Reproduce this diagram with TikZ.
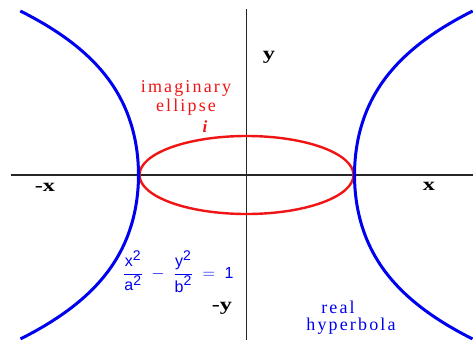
\documentclass[tikz,border=0pt]{standalone}
\usepackage{fontspec}
\setmainfont{Liberation Serif}
\newfontfamily\lsf[LetterSpace=12]{Liberation Serif}
\newfontfamily\eqf{Liberation Sans}
\newcommand\eqt[1]{\hbox{\eqf\fontsize{16}{16}\selectfont #1}}
\newcommand\eqs[1]{\hbox{\eqf\fontsize{14}{14}\selectfont #1}}
\newcommand\widelab[1]{\scalebox{1.35}[1]{#1}}
\definecolor{hblue}{RGB}{0,0,240}
\definecolor{ered}{RGB}{240,20,20}
\tikzset{
  axisline/.style={line width=1.3pt, draw=black!85},
  hyp/.style={line width=3pt, draw=hblue},
  ell/.style={line width=2.4pt, draw=ered},
  axlab/.style={font=\fontsize{18}{18}\selectfont\bfseries, text=black, inner sep=0pt},
  redt/.style={font=\lsf\fontsize{18}{18}\selectfont, text=ered, inner sep=0pt},
  bluet/.style={font=\lsf\fontsize{18}{18}\selectfont, text=hblue, inner sep=0pt},
  eqn/.style={font=\fontsize{16}{19}\selectfont, text=hblue, inner sep=0pt}
}
\begin{document}
\begin{tikzpicture}[x=1pt,y=-1pt]
\useasboundingbox (0,0) rectangle (473,340);
\fill[white] (0,0) rectangle (473,340);
% axes
\coordinate (hl) at (11,175);
\coordinate (hr) at (473,175);
\coordinate (vt) at (246.5,9);
\coordinate (vb) at (246.5,340);
\draw[axisline] (hl) -- (hr);
\draw[axisline] (vt) -- (vb);
% ellipse
\coordinate (o) at (246.5,175);
\draw[ell] (o) ellipse [x radius=107, y radius=39];
% hyperbola branches
\draw[hyp] plot[domain=-1.64:1.64, samples=80, smooth, variable=\s]
  ({246.5-(108+27*\s*\s+6.3*\s*\s*\s*\s)}, {175+100*\s});
\draw[hyp] plot[domain=-1.64:1.64, samples=80, smooth, variable=\s]
  ({246.5+(108+27*\s*\s+6.3*\s*\s*\s*\s)}, {175+100*\s});
% labels
\node[axlab] (ny) at (269,57) {\widelab{y}};
\node[axlab] (nxm) at (45,187) {\widelab{-x}};
\node[axlab] (nx) at (429,186) {\widelab{x}};
\node[axlab] (nym) at (222,308) {\widelab{-y}};
\node[redt] (im) at (186,88) {imaginary};
\node[redt] (el) at (186,107) {ellipse};
\node[font=\fontsize{17}{17}\selectfont\bfseries\itshape, text=ered, inner sep=0pt] (ii) at (205,127) {i};
\node[bluet] (re) at (338,307) {real};
\node[bluet] (hy) at (351,326) {hyperbola};
\node[eqn, anchor=west] (eq) at (123,272) {$\displaystyle\frac{\eqt{x}^{\eqs{2}}}{\eqt{a}^{\eqs{2}}}\;-\;\frac{\eqt{y}^{\eqs{2}}}{\eqt{b}^{\eqs{2}}}\;=\;\eqt{1}$};
\end{tikzpicture}
\end{document}
